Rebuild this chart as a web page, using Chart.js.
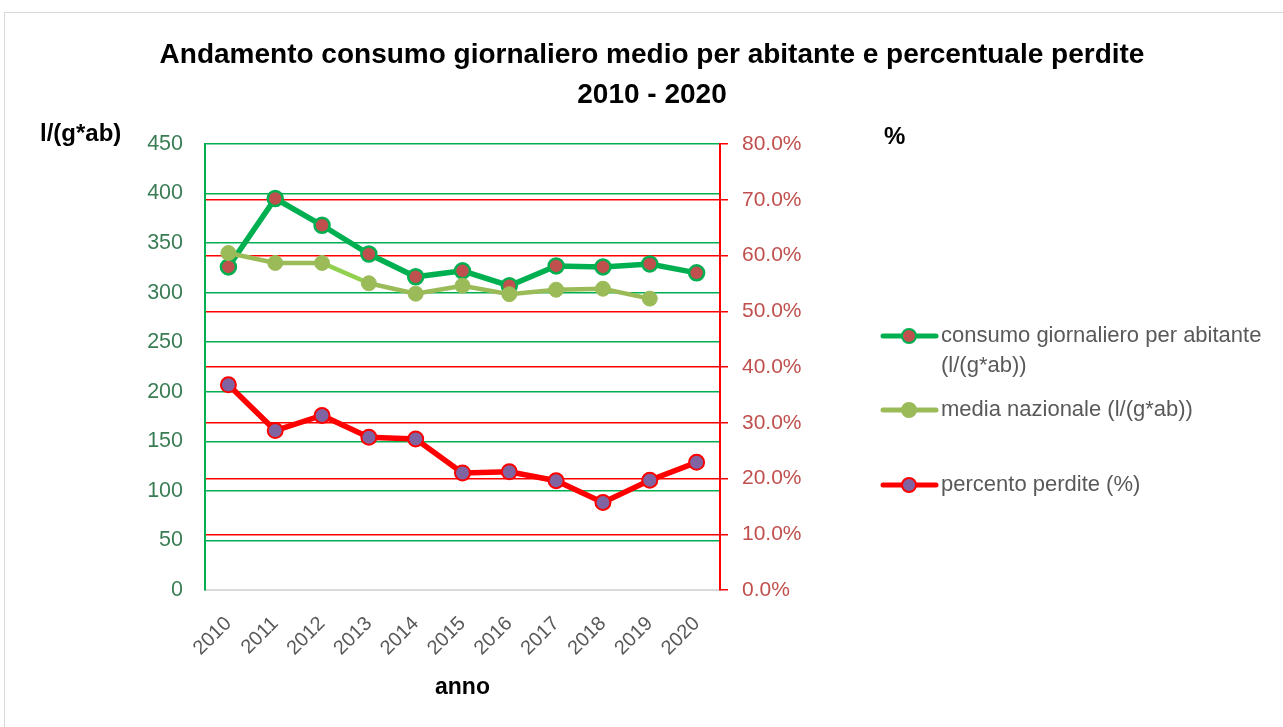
<!DOCTYPE html>
<html>
<head>
<meta charset="utf-8">
<script src="https://cdn.jsdelivr.net/npm/chart.js@4/dist/chart.umd.min.js"></script>
<style>
  html, body { margin: 0; padding: 0; background: #ffffff; }
  #wrap { width: 1283px; height: 727px; position: relative; }
</style>
</head>
<body>
<div id="wrap"><canvas id="c" width="1283" height="727"></canvas></div>
<script>
const years = ['2010','2011','2012','2013','2014','2015','2016','2017','2018','2019','2020'];
const consumo = [326, 395, 368, 339, 316, 322, 307, 327, 326, 329, 320];
const media = [340, 330, 330, 309.5, 299, 307, 298.5, 303, 304, 294, null];
const perdite = [36.8, 28.6, 31.3, 27.4, 27.1, 21.0, 21.2, 19.6, 15.7, 19.7, 22.9];
const seriesNames = ['consumo giornaliero per abitante\n(l/(g*ab))', 'media nazionale (l/(g*ab))', 'percento perdite (%)'];
const titleLines = ['Andamento consumo giornaliero medio per abitante e percentuale perdite', '2010 - 2020'];

const FONT = '"Liberation Sans", Arial, sans-serif';

const decor = {
  id: 'decor',
  beforeDraw(chart) {
    const ctx = chart.ctx;
    ctx.save();
    ctx.strokeStyle = '#D9D9D9';
    ctx.lineWidth = 1;
    ctx.strokeRect(4.5, 12.5, 1300, 800);
    ctx.restore();
  },
  afterDraw(chart) {
    const ctx = chart.ctx;
    const area = chart.chartArea;
    ctx.save();
    // title
    ctx.fillStyle = '#000000';
    ctx.textAlign = 'center';
    ctx.textBaseline = 'middle';
    ctx.font = 'bold 28px ' + FONT;
    ctx.fillText(titleLines[0], 652, 55);
    ctx.fillText(titleLines[1], 652, 95);
    // axis titles
    ctx.font = 'bold 24px ' + FONT;
    ctx.textAlign = 'left';
    ctx.fillText('l/(g*ab)', 40, 134);
    ctx.fillText('%', 884, 137);
    ctx.textAlign = 'center';
    ctx.font = 'bold 23px ' + FONT;
    ctx.fillText('anno', (area.left + area.right) / 2, 688);
    // legend
    const ys = [336, 410, 485];
    chart.data.datasets.forEach((ds, i) => {
      const y = ys[i];
      ctx.strokeStyle = ds.borderColor;
      ctx.lineWidth = 5;
      ctx.lineCap = 'round';
      ctx.beginPath();
      ctx.moveTo(883, y);
      ctx.lineTo(936, y);
      ctx.stroke();
      ctx.beginPath();
      ctx.arc(909, y, 7, 0, Math.PI * 2);
      ctx.fillStyle = ds.pointBackgroundColor;
      ctx.fill();
      ctx.lineWidth = 2;
      ctx.strokeStyle = ds.pointBorderColor;
      ctx.stroke();
      ctx.fillStyle = '#595959';
      ctx.font = '22px ' + FONT;
      ctx.textAlign = 'left';
      ctx.textBaseline = 'middle';
      ds.label.split('\n').forEach((ln, k) => ctx.fillText(ln, 941, y + k * 30));
    });
    ctx.restore();
  }
};

new Chart(document.getElementById('c'), {
  type: 'line',
  data: {
    labels: years,
    datasets: [
      {
        label: seriesNames[0], data: consumo, yAxisID: 'y', order: 3,
        borderColor: '#00B050', borderWidth: 5.5,
        pointBackgroundColor: '#C0504D', pointBorderColor: '#00B050',
        pointBorderWidth: 2.5, pointRadius: 7.5, tension: 0
      },
      {
        label: seriesNames[1], data: media, yAxisID: 'y', order: 2,
        borderColor: '#9BBB59', borderWidth: 4.5,
        pointBackgroundColor: '#9BBB59', pointBorderColor: '#9BBB59',
        pointBorderWidth: 1, pointRadius: 7.5, tension: 0,
        segment: { borderColor: c => c.p0DataIndex === 2 ? '#92D050' : undefined }
      },
      {
        label: seriesNames[2], data: perdite, yAxisID: 'y1', order: 1,
        borderColor: '#FF0000', borderWidth: 5.5,
        pointBackgroundColor: '#8064A2', pointBorderColor: '#FF0000',
        pointBorderWidth: 2, pointRadius: 7.5, tension: 0
      }
    ]
  },
  options: {
    responsive: false,
    animation: false,
    layout: { padding: { top: 144, left: 0, right: 0, bottom: 0 } },
    plugins: { legend: { display: false }, tooltip: { enabled: false }, title: { display: false } },
    scales: {
      x: {
        offset: true,
        grid: { display: false },
        border: { display: true, color: '#D9D9D9', width: 2 },
        ticks: { color: '#595959', font: { family: FONT, size: 20 }, minRotation: 45, maxRotation: 45, padding: 14 },
        afterFit(s) { s.height = 137; }
      },
      y: {
        position: 'left', min: 0, max: 450,
        ticks: { stepSize: 50, color: '#3A7D55', font: { family: FONT, size: 21.5 }, padding: 22 },
        grid: { color: c => c.tick.value === 0 ? 'rgba(0,0,0,0)' : '#00B050', lineWidth: 1.5, drawTicks: false },
        border: { display: true, color: '#00B050', width: 2 },
        afterFit(s) { s.width = 205; }
      },
      y1: {
        position: 'right', min: 0, max: 80,
        ticks: { stepSize: 10, color: '#C0504D', font: { family: FONT, size: 21 }, padding: 14,
                 callback: v => v.toFixed(1) + '%' },
        grid: { color: c => (c.tick.value === 0 || c.tick.value === 80) ? 'rgba(0,0,0,0)' : '#FF0000',
                tickColor: '#FF0000', lineWidth: 1.5, tickLength: 8, drawTicks: true },
        border: { display: true, color: '#FF0000', width: 2 },
        afterFit(s) { s.width = 1283 - 720; }
      }
    }
  },
  plugins: [decor]
});
</script>
</body>
</html>
